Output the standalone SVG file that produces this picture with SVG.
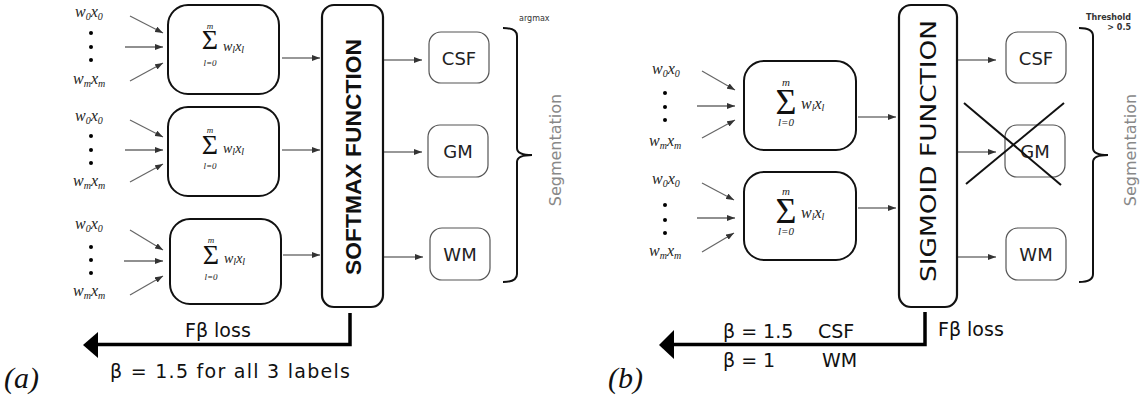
<svg xmlns="http://www.w3.org/2000/svg" width="1140" height="395" viewBox="0 0 1140 395">
<defs>
<marker id="ah" markerWidth="8" markerHeight="6" refX="8" refY="3" orient="auto" markerUnits="userSpaceOnUse"><path d="M0,0 L8,3 L0,6 z" fill="#333"/></marker>
</defs>
<style>
.box{fill:#fff;stroke:#111;stroke-width:2}
.lbox{fill:#fff;stroke:#555;stroke-width:1.2}
.fn{fill:#fff;stroke:#111;stroke-width:2.2}
.in{stroke:#666;stroke-width:1.2;fill:none}
.inb{stroke:#222;stroke-width:1.2;fill:none}
.out{stroke:#333;stroke-width:1.2;fill:none}
.m{font-family:"Liberation Serif",serif;font-style:italic;fill:#222}
.sig{font-family:"Liberation Serif",serif;fill:#111;text-anchor:middle}
.lim{font-family:"Liberation Serif",serif;font-style:italic;fill:#222;text-anchor:middle}
.sub{font-size:10px}
.lab{font-family:"DejaVu Sans",sans-serif;font-size:18px;fill:#222;text-anchor:middle}
.fnt{fill:#111;text-anchor:middle}
.seg{font-family:"DejaVu Sans",sans-serif;font-size:16px;fill:#888;text-anchor:middle}
.loss{font-family:"DejaVu Sans",sans-serif;font-size:19px;fill:#111}
.br{stroke:#111;stroke-width:2;fill:none}
.fb{stroke:#000;stroke-width:3.5;fill:none}
.cap{font-family:"Liberation Serif",serif;font-style:italic;font-size:30px;fill:#111}
</style>

<g id="a-inputs">
<g id="a-in1">
<text class="m" x="75" y="17" font-size="16">w<tspan class="sub" dy="3">0</tspan><tspan dy="-3">x</tspan><tspan class="sub" dy="3">0</tspan></text>
<circle cx="91" cy="33" r="2"/><circle cx="91" cy="47" r="2"/><circle cx="91" cy="60" r="2"/>
<text class="m" x="73" y="84" font-size="16">w<tspan class="sub" dy="3">m</tspan><tspan dy="-3">x</tspan><tspan class="sub" dy="3">m</tspan></text>
</g>
<g id="a-in2">
<text class="m" x="75" y="121" font-size="16">w<tspan class="sub" dy="3">0</tspan><tspan dy="-3">x</tspan><tspan class="sub" dy="3">0</tspan></text>
<circle cx="91" cy="136" r="2"/><circle cx="91" cy="150" r="2"/><circle cx="91" cy="163" r="2"/>
<text class="m" x="73" y="186" font-size="16">w<tspan class="sub" dy="3">m</tspan><tspan dy="-3">x</tspan><tspan class="sub" dy="3">m</tspan></text>
</g>
<g id="a-in3">
<text class="m" x="75" y="229" font-size="16">w<tspan class="sub" dy="3">0</tspan><tspan dy="-3">x</tspan><tspan class="sub" dy="3">0</tspan></text>
<circle cx="91" cy="247" r="2"/><circle cx="91" cy="260" r="2"/><circle cx="91" cy="273" r="2"/>
<text class="m" x="73" y="296" font-size="16">w<tspan class="sub" dy="3">m</tspan><tspan dy="-3">x</tspan><tspan class="sub" dy="3">m</tspan></text>
</g>
</g>

<g id="a-sum1">
<rect class="box" x="168" y="5" width="111" height="89" rx="20"/>
<text class="lim" x="210" y="29" font-size="9">m</text>
<text class="sig" x="210" y="49" font-size="28">Σ</text>
<text class="lim" x="210" y="66" font-size="9">l=0</text>
<text class="m" x="223" y="51" font-size="14">w<tspan class="sub" dy="2">l</tspan><tspan dy="-2">x</tspan><tspan class="sub" dy="2">l</tspan></text>
</g>
<g id="a-sum2">
<rect class="box" x="168" y="107" width="111" height="89" rx="20"/>
<text class="lim" x="210" y="133" font-size="9">m</text>
<text class="sig" x="210" y="154" font-size="28">Σ</text>
<text class="lim" x="210" y="169" font-size="9">l=0</text>
<text class="m" x="223" y="153" font-size="14">w<tspan class="sub" dy="2">l</tspan><tspan dy="-2">x</tspan><tspan class="sub" dy="2">l</tspan></text>
</g>
<g id="a-sum3">
<rect class="box" x="170" y="219" width="111" height="85" rx="20"/>
<text class="lim" x="211" y="243" font-size="9">m</text>
<text class="sig" x="211" y="264" font-size="28">Σ</text>
<text class="lim" x="211" y="280" font-size="9">l=0</text>
<text class="m" x="224" y="263" font-size="14">w<tspan class="sub" dy="2">l</tspan><tspan dy="-2">x</tspan><tspan class="sub" dy="2">l</tspan></text>
</g>

<g id="a-softmax">
<rect class="fn" x="322" y="5" width="61" height="302" rx="12"/>
<text class="fnt" transform="translate(361,157) rotate(-90)" font-family="Liberation Sans,sans-serif" font-size="22" font-weight="bold" textLength="236" lengthAdjust="spacingAndGlyphs">SOFTMAX FUNCTION</text>
</g>

<g id="a-csf"><rect class="lbox" x="429" y="32" width="60" height="51" rx="12"/><text class="lab" x="459" y="65">CSF</text></g>
<g id="a-gm"><rect class="lbox" x="428" y="125" width="60" height="52" rx="12"/><text class="lab" x="458" y="158">GM</text></g>
<g id="a-wm"><rect class="lbox" x="430" y="228" width="60" height="52" rx="12"/><text class="lab" x="460" y="261">WM</text></g>

<g id="a-seg">
<path class="br" d="M503,28 Q517,28 517,36 V148 Q517,155 532,155 Q517,155 517,162 V274 Q517,282 503,282"/>
<text x="519" y="21" font-family="DejaVu Sans,sans-serif" font-size="8" fill="#333">argmax</text>
<text class="seg" transform="translate(561,150) rotate(-90)">Segmentation</text>
</g>

<g id="b-inputs">
<g id="b-in1">
<text class="m" x="652" y="74" font-size="16">w<tspan class="sub" dy="3">0</tspan><tspan dy="-3">x</tspan><tspan class="sub" dy="3">0</tspan></text>
<circle cx="665" cy="93" r="2"/><circle cx="665" cy="107" r="2"/><circle cx="665" cy="120" r="2"/>
<text class="m" x="649" y="146" font-size="16">w<tspan class="sub" dy="3">m</tspan><tspan dy="-3">x</tspan><tspan class="sub" dy="3">m</tspan></text>
</g>
<g id="b-in2">
<text class="m" x="652" y="184" font-size="16">w<tspan class="sub" dy="3">0</tspan><tspan dy="-3">x</tspan><tspan class="sub" dy="3">0</tspan></text>
<circle cx="665" cy="205" r="2"/><circle cx="665" cy="220" r="2"/><circle cx="665" cy="233" r="2"/>
<text class="m" x="649" y="256" font-size="16">w<tspan class="sub" dy="3">m</tspan><tspan dy="-3">x</tspan><tspan class="sub" dy="3">m</tspan></text>
</g>
</g>

<g id="b-sum1">
<rect class="box" x="744" y="61" width="112" height="89" rx="20"/>
<text class="lim" x="786" y="86" font-size="11">m</text>
<text class="sig" x="786" y="114" font-size="36">Σ</text>
<text class="lim" x="786" y="126" font-size="11">l=0</text>
<text class="m" x="801" y="109" font-size="16">w<tspan class="sub" dy="2">l</tspan><tspan dy="-2">x</tspan><tspan class="sub" dy="2">l</tspan></text>
</g>
<g id="b-sum2">
<rect class="box" x="744" y="172" width="112" height="88" rx="20"/>
<text class="lim" x="786" y="195" font-size="11">m</text>
<text class="sig" x="786" y="223" font-size="36">Σ</text>
<text class="lim" x="786" y="235" font-size="11">l=0</text>
<text class="m" x="801" y="218" font-size="16">w<tspan class="sub" dy="2">l</tspan><tspan dy="-2">x</tspan><tspan class="sub" dy="2">l</tspan></text>
</g>

<g id="b-sigmoid">
<rect class="fn" x="899" y="5" width="58" height="302" rx="12"/>
<text class="fnt" transform="translate(936,151) rotate(-90)" font-family="DejaVu Sans,sans-serif" font-size="22" textLength="262" lengthAdjust="spacingAndGlyphs">SIGMOID FUNCTION</text>
</g>

<g id="b-csf"><rect class="lbox" x="1006" y="32" width="60" height="51" rx="12"/><text class="lab" x="1036" y="65">CSF</text></g>
<g id="b-gm"><rect class="lbox" x="1005" y="125" width="60" height="52" rx="12"/><text class="lab" x="1035" y="158">GM</text></g>
<g id="b-wm"><rect class="lbox" x="1006" y="228" width="60" height="52" rx="12"/><text class="lab" x="1036" y="261">WM</text></g>

<g id="b-cross">
<line x1="964" y1="103" x2="1061" y2="185" stroke="#111" stroke-width="2"/>
<line x1="966" y1="184" x2="1064" y2="103" stroke="#111" stroke-width="2"/>
</g>

<g id="b-seg">
<path class="br" d="M1079,28 Q1093,28 1093,36 V148 Q1093,155 1108,155 Q1093,155 1093,162 V274 Q1093,282 1079,282"/>
<text x="1131" y="20" font-family="DejaVu Sans,sans-serif" font-size="8" font-weight="bold" fill="#333" text-anchor="end">Threshold</text>
<text x="1131" y="30" font-family="DejaVu Sans,sans-serif" font-size="8" font-weight="bold" fill="#333" text-anchor="end">&gt; 0.5</text>
<text class="seg" transform="translate(1136,150) rotate(-90)">Segmentation</text>
</g>

<g id="connectors">
<line class="in" x1="130" y1="16" x2="163" y2="33" marker-end="url(#ah)"/>
<line class="inb" x1="125" y1="47" x2="163" y2="47" marker-end="url(#ah)"/>
<line class="in" x1="130" y1="81" x2="163" y2="63" marker-end="url(#ah)"/>
<line class="in" x1="130" y1="120" x2="163" y2="137" marker-end="url(#ah)"/>
<line class="inb" x1="125" y1="150" x2="163" y2="150" marker-end="url(#ah)"/>
<line class="in" x1="130" y1="182" x2="163" y2="164" marker-end="url(#ah)"/>
<line class="in" x1="130" y1="230" x2="163" y2="250" marker-end="url(#ah)"/>
<line class="inb" x1="124" y1="261" x2="163" y2="261" marker-end="url(#ah)"/>
<line class="in" x1="130" y1="295" x2="163" y2="276" marker-end="url(#ah)"/>
<line class="out" x1="282" y1="58" x2="320" y2="58" marker-end="url(#ah)"/>
<line class="out" x1="282" y1="150" x2="320" y2="150" marker-end="url(#ah)"/>
<line class="out" x1="283" y1="255" x2="320" y2="255" marker-end="url(#ah)"/>
<line class="out" x1="384" y1="60" x2="422" y2="60" marker-end="url(#ah)"/>
<line class="out" x1="384" y1="152" x2="422" y2="152" marker-end="url(#ah)"/>
<line class="out" x1="384" y1="257" x2="423" y2="257" marker-end="url(#ah)"/>
<line class="in" x1="702" y1="71" x2="735" y2="90" marker-end="url(#ah)"/>
<line class="inb" x1="697" y1="106" x2="735" y2="106" marker-end="url(#ah)"/>
<line class="in" x1="702" y1="138" x2="735" y2="120" marker-end="url(#ah)"/>
<line class="in" x1="702" y1="183" x2="734" y2="200" marker-end="url(#ah)"/>
<line class="inb" x1="697" y1="218" x2="735" y2="218" marker-end="url(#ah)"/>
<line class="in" x1="702" y1="252" x2="734" y2="233" marker-end="url(#ah)"/>
<line class="out" x1="858" y1="117" x2="896" y2="117" marker-end="url(#ah)"/>
<line class="out" x1="858" y1="208" x2="896" y2="208" marker-end="url(#ah)"/>
<line class="out" x1="958" y1="60" x2="996" y2="60" marker-end="url(#ah)"/>
<line class="out" x1="958" y1="152" x2="996" y2="152" marker-end="url(#ah)"/>
<line class="out" x1="958" y1="257" x2="996" y2="257" marker-end="url(#ah)"/>
<path class="fb" d="M350,313 V344.5 H96"/>
<polygon points="83,345 98,332 98,358" fill="#000"/>
<path class="fb" d="M925,312 V344.5 H672"/>
<polygon points="659,345 674,330 674,359" fill="#000"/>
</g>

<g id="a-loss">
<text class="loss" x="185" y="337">Fβ loss</text>
<text class="loss" x="110" y="378" font-size="20" textLength="240" lengthAdjust="spacing">β = 1.5 for all 3 labels</text>
<text class="cap" x="4" y="388">(a)</text>
</g>
<g id="b-loss">
<text class="loss" x="938" y="336">Fβ loss</text>
<text class="loss" x="723" y="338" font-size="20">β = 1.5<tspan x="818">CSF</tspan></text>
<text class="loss" x="723" y="367" font-size="20">β = 1<tspan x="822">WM</tspan></text>
<text class="cap" x="608" y="388">(b)</text>
</g>
</svg>
